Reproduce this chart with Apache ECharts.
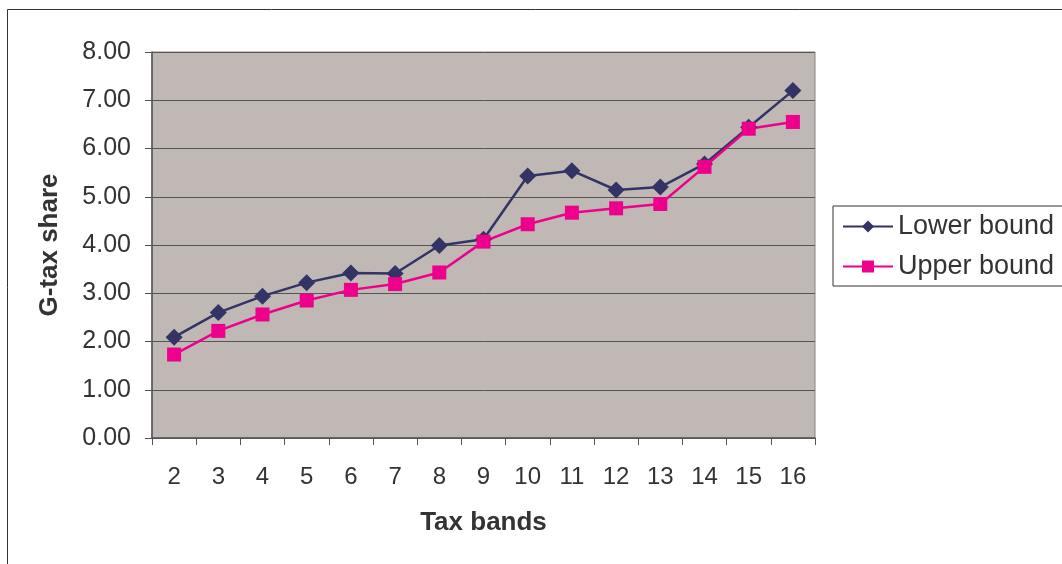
<!DOCTYPE html>
<html>
<head>
<meta charset="utf-8">
<script src="https://cdn.jsdelivr.net/npm/echarts@6/dist/echarts.min.js"></script>
<style>
  html, body { margin: 0; padding: 0; background: #fff; }
  #chart { width: 1062px; height: 564px; }
</style>
</head>
<body>
<div id="chart"></div>
<script>
// tax bands on the x axis
var bands = ['2', '3', '4', '5', '6', '7', '8', '9', '10', '11', '12', '13', '14', '15', '16'];
// G-tax share values
var lowerBound = [2.09, 2.60, 2.94, 3.22, 3.42, 3.41, 3.99, 4.12, 5.43, 5.54, 5.14, 5.20, 5.68, 6.44, 7.20];
var upperBound = [1.73, 2.22, 2.56, 2.85, 3.07, 3.19, 3.43, 4.07, 4.43, 4.67, 4.76, 4.85, 5.62, 6.41, 6.55];

var myChart = echarts.init(document.getElementById('chart'));

var font = 'Liberation Sans';

var option = {
  animation: false,
  backgroundColor: '#fff',
  // outer frame of the chart area
  graphic: [{
    type: 'rect',
    shape: { x: 7.5, y: 9.5, width: 1100, height: 600 },
    style: { fill: 'none', stroke: '#333', lineWidth: 1 },
    silent: true
  }],
  grid: {
    left: 152,
    right: 247,
    top: 52,
    bottom: 126,
    show: true,
    backgroundColor: '#C0B8B4',
    borderColor: '#8a8282',
    borderWidth: 1
  },
  legend: {
    orient: 'vertical',
    left: 833,
    top: 206,
    padding: [7, 20, 6, 9],
    itemGap: 13,
    itemWidth: 50,
    itemHeight: 15,
    borderColor: '#333',
    borderWidth: 1,
    textStyle: { fontFamily: font, fontSize: 27, color: '#333' },
    data: ['Lower bound', 'Upper bound']
  },
  xAxis: {
    type: 'category',
    data: bands,
    boundaryGap: true,
    name: 'Tax bands',
    nameLocation: 'middle',
    nameGap: 72,
    nameTextStyle: { fontFamily: font, fontSize: 26, fontWeight: 'bold', color: '#333' },
    axisLine: { lineStyle: { color: '#555', width: 1.5 } },
    axisTick: { show: true, alignWithLabel: false, length: 7, lineStyle: { color: '#555' } },
    axisLabel: { fontFamily: font, fontSize: 24, color: '#333', margin: 27, interval: 0 },
    splitLine: { show: false }
  },
  yAxis: {
    type: 'value',
    min: 0,
    max: 8,
    interval: 1,
    name: 'G-tax share',
    nameLocation: 'middle',
    nameGap: 89,
    nameTextStyle: { fontFamily: font, fontSize: 26, fontWeight: 'bold', color: '#333' },
    axisLine: { show: true, lineStyle: { color: '#555', width: 1.5 } },
    axisTick: { show: true, length: 7, lineStyle: { color: '#555' } },
    axisLabel: {
      fontFamily: font, fontSize: 25, color: '#333', margin: 21,
      formatter: function (v) { return v.toFixed(2); }
    },
    splitLine: { show: true, lineStyle: { color: '#555', width: 1 } }
  },
  series: [
    {
      name: 'Lower bound',
      type: 'line',
      data: lowerBound,
      symbol: 'diamond',
      symbolSize: 17,
      color: '#333366',
      lineStyle: { color: '#333366', width: 2.5 },
      itemStyle: { color: '#333366' }
    },
    {
      name: 'Upper bound',
      type: 'line',
      data: upperBound,
      symbol: 'rect',
      symbolSize: 14,
      color: '#EC008C',
      lineStyle: { color: '#EC008C', width: 2.5 },
      itemStyle: { color: '#EC008C' }
    }
  ]
};

myChart.setOption(option);
</script>
</body>
</html>
